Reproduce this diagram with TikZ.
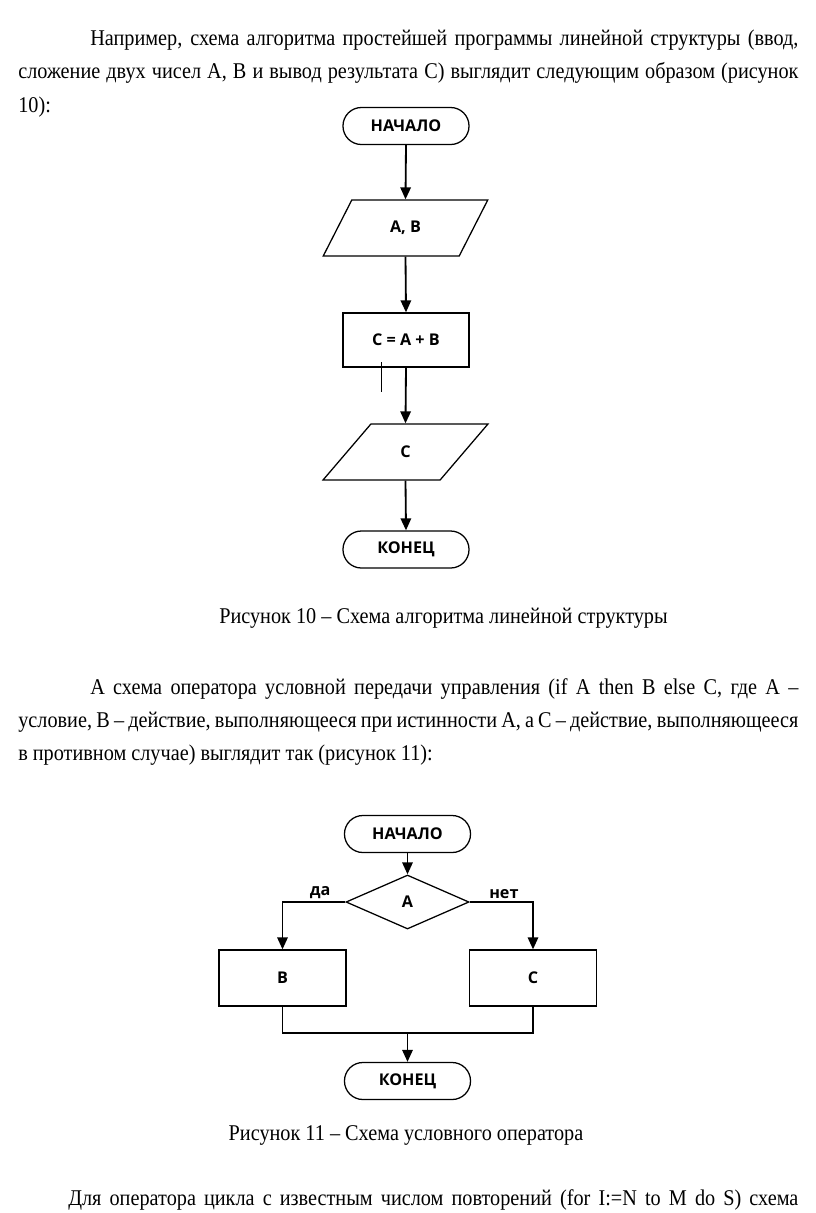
\documentclass[tikz,border=0pt]{standalone}
\usepackage{fontspec}
\setmainfont[FakeStretch=0.9]{Liberation Serif}
\newfontfamily\chartfont{Open Sans}
\usetikzlibrary{shapes.geometric,arrows.meta}
\tikzset{
  terminal/.style={draw,line width=0.9pt,rounded corners=4.6mm,
    minimum width=3.15cm,minimum height=0.925cm,font=\chartfont\bfseries\fontsize{11.5}{13}\selectfont},
  block/.style={draw,line width=0.9pt,minimum width=3.15cm,minimum height=1.35cm,
    font=\chartfont\bfseries\fontsize{11.5}{13}\selectfont},
  io/.style={draw,line width=0.9pt,trapezium,trapezium left angle=59,trapezium right angle=121,
    trapezium stretches=true,minimum width=4.125cm,minimum height=1.4cm,inner sep=0pt,
    font=\chartfont\bfseries\fontsize{11.5}{13}\selectfont},
  decision/.style={draw,line width=0.9pt,diamond,minimum width=3.075cm,minimum height=1.35cm,
    inner sep=0pt,font=\chartfont\bfseries\fontsize{11.5}{13}\selectfont},
  flow/.style={line width=1.3pt,-{Triangle[length=3mm,width=2.6mm]}},
  branch/.style={font=\chartfont\bfseries\fontsize{11.5}{13}\selectfont,above,inner sep=2pt},
  textline/.style={anchor=base west,inner sep=0pt,font=\fontsize{16}{19}\selectfont},
  caption/.style={anchor=base,inner sep=0pt,font=\fontsize{16}{19}\selectfont}
}
\begin{document}
\begin{tikzpicture}[x=0.025cm,y=-0.025cm]
  \fill[white] (0,0) rectangle (816,1213);
  \useasboundingbox (0,0) rectangle (816,1213);
  % text before figure 10
  \node[textline] (p1a) at (90,45)
    {\makebox[17.7cm][s]{Например, схема алгоритма простейшей программы линейной структуры (ввод,}};
  \node[textline] (p1b) at (18,78)
    {\makebox[19.5cm][s]{сложение двух чисел A, B и вывод результата C) выглядит следующим образом (рисунок}};
  \node[textline] (p1c) at (18,112) {10):};

  % figure 10
  \node[terminal] (start1) at (406,126) {НАЧАЛО};
  \node[io] (input) at (405.5,228) {A, B};
  \node[block] (sum) at (406,340) {C = A + B};
  \node[io] (output) at (405.5,452) {C};
  \node[terminal] (end1) at (406,549.5) {КОНЕЦ};
  \draw[flow] (start1.south) -- (input.north);
  \draw[flow] (input.south) -- (sum.north);
  \draw[flow] (sum.south) -- (output.north);
  \draw[flow] (output.south) -- (end1.north);
  \draw[line width=0.5pt] (381,362) -- (381,392);
  \node[caption] (cap10) at (443.5,623) {Рисунок 10 – Схема алгоритма линейной структуры};

  % text before figure 11
  \node[textline] (p2a) at (90,694)
    {\makebox[17.7cm][s]{А схема оператора условной передачи управления (if A then B else C, где A –}};
  \node[textline] (p2b) at (18,727)
    {\makebox[19.5cm][s]{условие, B – действие, выполняющееся при истинности A, а C – действие, выполняющееся}};
  \node[textline] (p2c) at (18,760) {в противном случае) выглядит так (рисунок 11):};

  % figure 11
  \node[terminal] (start2) at (407.5,834) {НАЧАЛО};
  \node[decision] (cond) at (407.5,902) {A};
  \node[block,minimum width=3.175cm,minimum height=1.4cm] (actB) at (282.5,978) {B};
  \node[block,minimum width=3.175cm,minimum height=1.4cm] (actC) at (533,978) {C};
  \node[terminal] (end2) at (407.5,1081) {КОНЕЦ};
  \coordinate (merge) at (407.5,1033);
  \draw[flow] (start2.south) -- (cond.north);
  \draw[flow] (cond.west) -| node[branch,pos=0.2] {да} (actB.north);
  \draw[flow] (cond.east) -| node[branch,pos=0.27] {нет} (actC.north);
  \draw[line width=1.1pt] (actB.south) -- (actB.south |- merge) -- (actC.south |- merge) -- (actC.south);
  \draw[flow] (merge) -- (end2.north);
  \node[caption] (cap11) at (406,1140) {Рисунок 11 – Схема условного оператора};

  \node[textline] (p3) at (68,1205)
    {\makebox[18.25cm][s]{Для оператора цикла с известным числом повторений (for I:=N to M do S) схема}};
\end{tikzpicture}
\end{document}
